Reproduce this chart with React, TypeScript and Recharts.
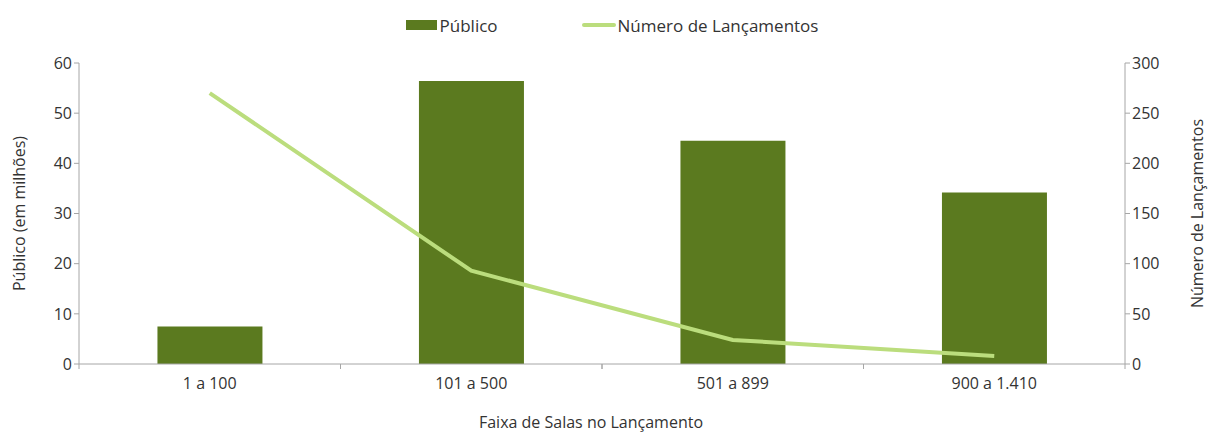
import {
  ComposedChart,
  Bar,
  Line,
  XAxis,
  YAxis,
  Legend,
} from "recharts";

const categories = ["1 a 100", "101 a 500", "501 a 899", "900 a 1.410"];
const publico = [7.5, 56.4, 44.5, 34.2];
const lancamentos = [270, 93, 24, 8];
const leftTicks = [0, 10, 20, 30, 40, 50, 60];
const rightTicks = [0, 50, 100, 150, 200, 250, 300];

const BAR_COLOR = "#5b7a1f";
const LINE_COLOR = "#bbdd7d";
const AXIS_COLOR = "#a6a6a6";
const TEXT_COLOR = "#333333";
const FONT = "'Open Sans', Lato, sans-serif";

const data = categories.map((cat, i) => ({
  faixa: cat,
  publico: publico[i],
  lancamentos: lancamentos[i],
}));

// category tick plus small separator marks at the band edges
const CategoryTick = (props: any) => {
  const { x, y, payload } = props;
  const half = 261.5 / 2;
  return (
    <g>
      <line x1={x - half} y1={y - 8} x2={x - half} y2={y - 3} stroke={AXIS_COLOR} />
      <line x1={x + half} y1={y - 8} x2={x + half} y2={y - 3} stroke={AXIS_COLOR} />
      <text x={x} y={y + 17} textAnchor="middle" fontSize={16} fill={TEXT_COLOR} fontFamily={FONT}>
        {payload.value}
      </text>
    </g>
  );
};

const LegendContent = () => (
  <div
    style={{
      display: "flex",
      justifyContent: "center",
      alignItems: "center",
      height: 22,
      fontFamily: FONT,
      fontSize: 17,
      color: TEXT_COLOR,
    }}
  >
    <span style={{ display: "inline-block", width: 31, height: 10, background: BAR_COLOR }} />
    <span style={{ marginLeft: 3 }}>Público</span>
    <span
      style={{
        display: "inline-block",
        width: 34,
        height: 4,
        borderRadius: 2,
        background: LINE_COLOR,
        marginLeft: 84,
      }}
    />
    <span style={{ marginLeft: 2 }}>Número de Lançamentos</span>
  </div>
);

const labelStyle = {
  fontSize: 16,
  fill: TEXT_COLOR,
  fontFamily: FONT,
  textAnchor: "middle" as const,
};

export default function App() {
  return (
    <div style={{ position: "absolute", left: 0, top: 0, background: "#fff" }}>
      <ComposedChart
        width={1208}
        height={432}
        data={data}
        margin={{ top: 41, right: 11, left: 19, bottom: 8 }}
        barCategoryGap="30%"
      >
        <Legend
          verticalAlign="top"
          align="center"
          wrapperStyle={{ top: 14, left: 8, width: 1208 }}
          content={<LegendContent />}
        />
        <XAxis
          dataKey="faixa"
          height={60}
          axisLine={{ stroke: AXIS_COLOR }}
          tickLine={false}
          tick={<CategoryTick />}
          label={{
            value: "Faixa de Salas no Lançamento",
            position: "insideBottom",
            offset: -4,
            dx: -11,
            ...labelStyle,
          }}
        />
        <YAxis
          yAxisId="left"
          domain={[0, 60]}
          ticks={leftTicks}
          width={60}
          axisLine={{ stroke: AXIS_COLOR }}
          tickLine={{ stroke: AXIS_COLOR }}
          tickSize={5}
          tick={{ fontSize: 16, fill: TEXT_COLOR, fontFamily: FONT }}
          label={{
            value: "Público (em milhões)",
            angle: -90,
            position: "insideLeft",
            offset: 0,
            ...labelStyle,
          }}
        />
        <YAxis
          yAxisId="right"
          orientation="right"
          domain={[0, 300]}
          ticks={rightTicks}
          width={72}
          axisLine={{ stroke: AXIS_COLOR }}
          tickLine={{ stroke: AXIS_COLOR }}
          tickSize={5}
          tick={{ fontSize: 16, fill: TEXT_COLOR, fontFamily: FONT }}
          label={{
            value: "Número de Lançamentos",
            angle: -90,
            position: "insideRight",
            offset: 0,
            ...labelStyle,
          }}
        />
        <Bar
          yAxisId="left"
          dataKey="publico"
          fill={BAR_COLOR}
          isAnimationActive={false}
        />
        <Line
          yAxisId="right"
          dataKey="lancamentos"
          stroke={LINE_COLOR}
          strokeWidth={4}
          dot={false}
          activeDot={false}
          isAnimationActive={false}
        />
      </ComposedChart>
    </div>
  );
}
